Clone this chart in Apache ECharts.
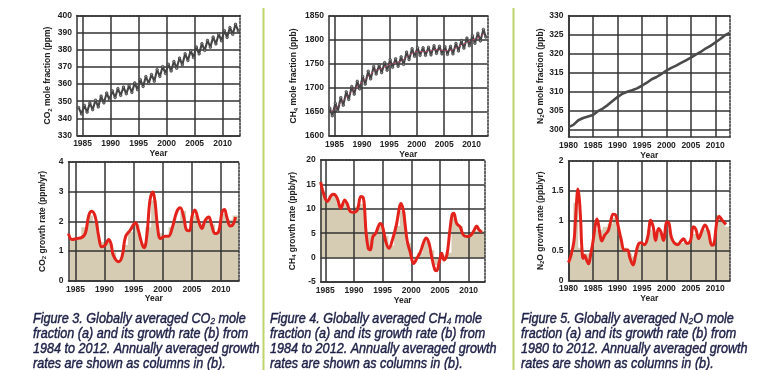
<!DOCTYPE html>
<html><head><meta charset="utf-8">
<script src="https://cdn.jsdelivr.net/npm/echarts/dist/echarts.min.js"></script>
<style>html,body{margin:0;padding:0;background:#fff}#c{width:766px;height:370px}</style>
</head><body><div id="c"></div>
<script>
// ---------- DATA ----------
const co2Years = [1984,1985,1986,1987,1988,1989,1990,1991,1992,1993,1994,1995,1996,1997,1998,1999,2000,2001,2002,2003,2004,2005,2006,2007,2008,2009,2010,2011,2012];
const co2High = [346.3,347.6,349.0,350.6,353.0,354.8,356.1,357.4,358.3,359.1,360.7,362.6,364.4,365.6,368.4,370.2,371.6,373.2,375.2,377.7,379.5,381.6,383.6,385.5,387.4,389.2,391.2,393.0,394.9];
const co2Low  = [342.5,343.6,345.0,346.6,349.0,350.8,352.1,353.4,354.3,355.1,356.7,358.6,360.4,361.6,364.4,366.2,367.6,369.2,371.2,373.7,375.5,377.6,379.6,381.5,383.4,385.2,387.2,389.0,390.9];
const co2RateX = [1983.8,1984.4,1985.2,1986.1,1986.7,1987.3,1987.8,1988.4,1989.0,1989.5,1990.1,1990.7,1991.1,1991.5,1992.4,1993.0,1993.6,1994.4,1995.3,1995.8,1996.4,1996.8,1997.3,1997.8,1998.3,1998.7,1999.1,1999.6,2000.4,2001.0,2001.6,2002.4,2003.0,2003.6,2004.1,2004.6,2005.0,2005.5,2006.2,2006.7,2007.3,2007.9,2008.4,2009.0,2009.6,2010.2,2010.6,2011.0,2011.6,2012.1,2012.5];
const co2RateY = [1.59,1.39,1.42,1.46,1.60,2.21,2.34,2.15,1.48,1.14,1.20,1.39,1.25,0.86,0.64,0.81,1.48,1.70,1.95,1.70,1.25,1.11,1.59,2.71,2.99,2.60,1.82,1.42,1.50,1.50,1.76,2.32,2.46,2.15,1.70,1.68,2.15,2.38,1.98,1.76,2.04,2.15,1.87,1.59,1.65,2.32,2.40,2.15,1.84,1.90,2.15];
const co2Annual = [1.4,1.45,1.8,2.2,1.95,1.3,1.3,0.95,0.7,1.2,1.65,1.9,1.25,1.8,2.7,1.6,1.5,1.8,2.0,2.35,1.75,2.2,1.9,2.05,1.9,1.6,2.25,2.05,2.2];

const ch4Years = co2Years;
const ch4Mean = [1650,1660,1672,1684,1695,1706,1716,1727,1737,1740,1745,1751,1753,1757,1767,1774,1776,1776,1777,1780,1779,1778,1779,1785,1791,1796,1801,1806,1814];
const ch4High = [1658,1668,1680,1692,1703,1714,1724,1735,1745,1748,1753,1759,1761,1765,1775,1782,1784,1784,1785,1788,1787,1786,1787,1793,1799,1804,1809,1814,1822];
const ch4Low  = [1642,1652,1664,1676,1687,1698,1708,1719,1729,1732,1737,1743,1745,1749,1759,1766,1768,1768,1769,1772,1771,1770,1771,1777,1783,1788,1793,1798,1806];
const ch4RateX = [1984.2,1984.6,1985.35,1986.05,1986.5,1987.1,1987.7,1988.4,1988.8,1989.4,1990.0,1990.6,1991.2,1991.6,1991.85,1992.1,1992.5,1992.85,1993.3,1993.8,1994.6,1995.0,1995.55,1996.1,1996.7,1997.4,1997.95,1998.2,1998.6,1998.9,1999.3,1999.8,2000.4,2001.0,2001.6,2002.2,2002.6,2003.1,2003.5,2004.1,2004.4,2004.9,2005.3,2005.7,2006.2,2006.7,2007.1,2007.4,2007.9,2008.5,2009.1,2009.8,2010.4,2011.0,2011.4,2011.8,2012.3];
const ch4RateY = [15.5,13.5,11.5,12.8,13.0,12.1,10.1,11.8,11.1,9.4,9.3,9.75,12.5,12.3,10.1,5.3,1.9,1.6,4.3,5.0,7.0,6.3,3.3,1.9,3.6,6.7,10.4,11.1,9.75,7.0,3.3,1.2,-1.2,-0.1,1.2,3.3,4.0,2.9,0.5,-2.5,-2.7,-0.8,0.9,-0.5,0.5,5.3,8.7,9.1,7.0,6.3,4.6,4.3,4.6,5.7,6.5,5.7,5.2];
const ch4Annual = [13.5,12,12.8,11,11.3,9.5,10.5,11,5,4.7,6.5,4.5,2.5,6.5,9.5,3,0.2,1,3.5,1.5,-1.5,0.5,1,8,6.5,4.8,5,5.5,5.5];

const n2oX = [1980,1981,1982,1983,1984,1985,1986,1987,1988,1989,1990,1991,1992,1993,1994,1995,1996,1997,1998,1999,2000,2001,2002,2003,2004,2005,2006,2007,2008,2009,2010,2011,2012,2012.9];
const n2oY = [300.6,301.2,302.4,303.0,303.4,303.8,304.8,305.5,306.4,307.5,308.5,309.4,309.9,310.3,310.8,311.5,312.3,313.2,313.8,314.6,315.5,316.2,316.8,317.5,318.2,318.9,319.7,320.4,321.3,322.0,322.9,323.8,324.8,325.4];
const n2oYears = [1980,1981,1982,1983,1984,1985,1986,1987,1988,1989,1990,1991,1992,1993,1994,1995,1996,1997,1998,1999,2000,2001,2002,2003,2004,2005,2006,2007,2008,2009,2010,2011,2012];
const n2oRateX = [1980.0,1980.5,1981.1,1981.4,1981.7,1981.9,1982.2,1982.5,1982.7,1983.0,1983.3,1983.7,1984.1,1984.5,1985.0,1985.4,1985.8,1986.1,1986.4,1986.8,1987.4,1988.1,1988.6,1989.1,1989.6,1990.1,1990.8,1991.4,1992.1,1992.5,1993.2,1993.7,1994.2,1994.8,1995.5,1996.2,1996.8,1997.3,1997.8,1998.4,1998.9,1999.4,2000.1,2000.4,2001.0,2001.6,2002.3,2003.0,2003.5,2004.2,2004.9,2005.5,2006.0,2006.6,2007.3,2007.9,2008.6,2009.3,2009.7,2010.3,2010.8,2011.4,2012.2];
const n2oRateY = [0.30,0.42,0.65,0.98,1.38,1.53,1.38,0.98,0.59,0.37,0.42,0.34,0.28,0.42,0.65,0.88,1.03,0.95,0.79,0.66,0.76,0.83,0.98,1.11,1.10,0.93,0.67,0.51,0.51,0.39,0.26,0.42,0.59,0.63,0.60,0.73,1.01,0.90,0.67,0.87,0.81,0.67,0.98,0.98,0.73,0.63,0.60,0.66,0.70,0.62,0.66,0.90,0.86,0.70,0.84,0.93,0.81,0.59,0.60,0.98,1.07,1.01,0.94];
const n2oAnnual = [0.45,1.3,0.55,0.45,0.45,0.85,0.85,0.9,0.95,1.05,0.75,0.55,0.45,0.4,0.6,0.62,0.85,0.8,0.8,0.75,0.85,0.65,0.62,0.65,0.62,0.78,0.78,0.85,0.85,0.65,1.1,1.0,0.9];

// tick labels
const yearTicks85 = [1985,1990,1995,2000,2005,2010];
const yearTicks80 = [1980,1985,1990,1995,2000,2005,2010];
const co2Ticks = [330,340,350,360,370,380,390,400];
const co2RateTicks = [0,1,2,3,4];
const ch4Ticks = [1600,1650,1700,1750,1800,1850];
const ch4RateTicks = [-5,0,5,10,15,20];
const n2oTicks = [300,305,310,315,320,325,330];
const n2oRateTicks = [0,0.5,1,1.5,2];

const captions = [
  ['Figure 3. Globally averaged CO','2',' mole','fraction (a) and its growth rate (b) from','1984 to 2012. Annually averaged growth','rates are shown as columns in (b).'],
  ['Figure 4. Globally averaged CH','4',' mole','fraction (a) and its growth rate (b) from','1984 to 2012. Annually averaged growth','rates are shown as columns in (b).'],
  ['Figure 5. Globally averaged N','2','O mole','fraction (a) and its growth rate (b) from','1980 to 2012. Annually averaged growth','rates are shown as columns in (b).']
];

// ---------- HELPERS ----------
const FONT = "'Liberation Sans',Arial,sans-serif";
const GRIDC = '#333';
const TAN = '#d5ccb3';
const RED = '#e3221b';

function zig(years, hi, lo, a, b){
  const d=[]; years.forEach((y,i)=>{ d.push([y+a,hi[i]]); d.push([y+b,lo[i]]); }); return d;
}
function pairs(xs, ys){ return xs.map((x,i)=>[x,ys[i]]); }
function steps(years, vals){ const d=years.map((y,i)=>[y,vals[i]]); d.push([years[years.length-1]+1, vals[vals.length-1]]); return d; }

const panels = [
  {grid:{left:77,top:15.5,width:163,height:120}, xr:[1984,2013.1], xt:yearTicks85, yr:[330,400], yt:co2Ticks,
   yName:'{n|CO}{s|2}{n| mole fraction (ppm)}', yGap:24},
  {grid:{left:68.5,top:162,width:170.5,height:118.7}, xr:[1983.8,2013.1], xt:yearTicks85, yr:[0,4], yt:co2RateTicks,
   yName:'{n|CO}{s|2}{n| growth rate (ppm/yr)}', yGap:21},
  {grid:{left:329,top:16,width:158.5,height:120}, xr:[1984,2012.9], xt:yearTicks85, yr:[1600,1850], yt:ch4Ticks,
   yName:'{n|CH}{s|4}{n| mole fraction (ppb)}', yGap:30},
  {grid:{left:320.7,top:160,width:164,height:122}, xr:[1984.2,2012.8], xt:yearTicks85, yr:[-5,20], yt:ch4RateTicks,
   yName:'{n|CH}{s|4}{n| growth rate (ppb/yr)}', yGap:23},
  {grid:{left:568.5,top:15.5,width:161.5,height:121.5}, xr:[1980,2013], xt:yearTicks80, yr:[298,330], yt:n2oTicks,
   yName:'{n|N}{s|2}{n|O mole fraction (ppb)}', yGap:23},
  {grid:{left:568.5,top:161,width:161.5,height:119.5}, xr:[1980,2013], xt:yearTicks80, yr:[0,2], yt:n2oRateTicks,
   yName:'{n|N}{s|2}{n|O growth rate (ppb/yr)}', yGap:23}
];

const grids=[], xAxes=[], yAxes=[];
const labelStyle = {color:'#222', fontSize:8.5, fontWeight:'bold', fontFamily:FONT, hideOverlap:false, showMinLabel:true, showMaxLabel:true, formatter:v=>String(v)};
const nameRich = {n:{fontSize:8.5,fontWeight:'bold',fontFamily:FONT,color:'#222'}, s:{fontSize:6,fontWeight:'bold',fontFamily:FONT,color:'#222',verticalAlign:'bottom',padding:[4,0,0,0]}};
panels.forEach((p,g)=>{
  grids.push(Object.assign({show:false}, p.grid));
  xAxes.push({type:'value', gridIndex:g, min:p.xr[0], max:p.xr[1], position:'bottom',
    name:'Year', nameLocation:'middle', nameGap:13, nameTextStyle:{fontSize:8.5,fontWeight:'bold',fontFamily:FONT,color:'#222'},
    axisLine:{show:true,onZero:false,lineStyle:{color:GRIDC,width:1.5}},
    axisTick:{show:false,customValues:p.xt},
    axisLabel:Object.assign({customValues:p.xt, margin:4}, labelStyle),
    splitLine:{show:true,lineStyle:{color:GRIDC,width:1.5}}});
  xAxes.push({type:'value', gridIndex:g, min:0, max:1, position:'top',
    axisLine:{show:true,onZero:false,lineStyle:{color:GRIDC,width:1.5,type:[2,1.5]}},
    axisTick:{show:false}, axisLabel:{show:false}, splitLine:{show:false}});
  yAxes.push({type:'value', gridIndex:g, min:p.yr[0], max:p.yr[1], position:'left',
    name:p.yName, nameLocation:'middle', nameGap:p.yGap, nameRotate:90, nameTextStyle:{rich:nameRich},
    axisLine:{show:true,onZero:false,lineStyle:{color:GRIDC,width:1.5}},
    axisTick:{show:false,customValues:p.yt},
    axisLabel:Object.assign({customValues:p.yt, margin:5}, labelStyle),
    splitLine:{show:true,lineStyle:{color:GRIDC,width:1.5}}});
  yAxes.push({type:'value', gridIndex:g, min:0, max:1, position:'right',
    axisLine:{show:true,onZero:false,lineStyle:{color:GRIDC,width:1.5,type:[2,1.5]}},
    axisTick:{show:false}, axisLabel:{show:false}, splitLine:{show:false}});
});

function ax(g){ return {xAxisIndex:2*g, yAxisIndex:2*g}; }
const zigStyle = {type:'line', symbol:'circle', symbolSize:2.5, showSymbol:true,
  lineStyle:{color:'#454545',width:2.1}, itemStyle:{color:'#8a8a8a',borderColor:'#333',borderWidth:0.7}, z:3, silent:true};
const tanStyle = {type:'line', step:'end', symbol:'none', lineStyle:{width:0}, areaStyle:{color:TAN,opacity:1}, z:-1, silent:true};
const redStyle = {type:'line', smooth:0.4, symbol:'none', lineStyle:{color:RED,width:3}, z:4, silent:true};

const series = [
  Object.assign({}, zigStyle, ax(0), {data:zig(co2Years,co2High,co2Low,0.3,0.8)}),
  Object.assign({}, tanStyle, ax(1), {data:steps(co2Years,co2Annual)}),
  Object.assign({}, redStyle, ax(1), {data:pairs(co2RateX,co2RateY)}),
  Object.assign({}, zigStyle, ax(2), {data:zig(ch4Years,ch4High,ch4Low,0.15,0.6)}),
  Object.assign({type:'line', symbol:'none', lineStyle:{color:'#c2456a',width:1,type:[3,2]}, z:4, silent:true}, ax(2), {data:pairs(ch4Years.map(y=>y+0.4),ch4Mean)}),
  Object.assign({}, tanStyle, ax(3), {data:steps(ch4Years,ch4Annual)}),
  Object.assign({}, redStyle, ax(3), {data:pairs(ch4RateX,ch4RateY)}),
  Object.assign({type:'line', symbol:'none', lineStyle:{color:'#4a4a4a',width:2.6}, z:3, silent:true}, ax(4), {data:pairs(n2oX,n2oY)}),
  Object.assign({}, tanStyle, ax(5), {data:steps(n2oYears,n2oAnnual)}),
  Object.assign({}, redStyle, ax(5), {data:pairs(n2oRateX,n2oRateY)})
];

const capLefts = [33, 270, 521];
const CAPC = '#1e2147';
const capRich = {n:{font:"italic 14.5px 'Liberation Sans'",fill:CAPC,stroke:CAPC,lineWidth:0.45,lineHeight:15},
                 s:{font:"italic 9.5px 'Liberation Sans'",fill:CAPC,stroke:CAPC,lineWidth:0.3,lineHeight:15,verticalAlign:'bottom',padding:[6,0,0,0]}};
const capGraphics = captions.map((c,i)=>({
  type:'text', x:capLefts[i], y:311, scaleX:0.87, silent:true,
  style:{
    text:'{n|'+c[0]+'}{s|'+c[1]+'}{n|'+c[2]+'}\n{n|'+c[3]+'}\n{n|'+c[4]+'}\n{n|'+c[5]+'}',
    rich:capRich, font:"italic 14.5px 'Liberation Sans'", fill:CAPC, verticalAlign:'top', align:'left'
  }
}));

const chart = echarts.init(document.getElementById('c'), null, {renderer:'canvas'});
chart.setOption({
  animation:false, backgroundColor:'#fff',
  grid:grids, xAxis:xAxes, yAxis:yAxes, series:series,
  graphic:[
    {type:'line', shape:{x1:263.5,y1:8,x2:263.5,y2:370}, style:{stroke:'#bfd36b',lineWidth:2}, silent:true},
    {type:'line', shape:{x1:513.5,y1:8,x2:513.5,y2:370}, style:{stroke:'#bfd36b',lineWidth:2}, silent:true}
  ].concat(capGraphics)
});
</script></body></html>
